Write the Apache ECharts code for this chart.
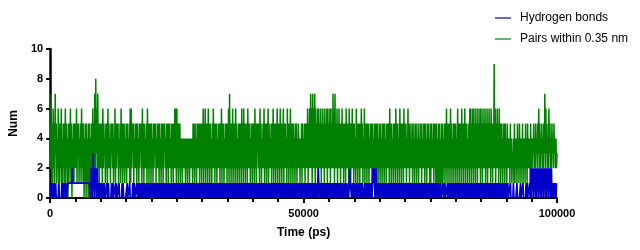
<!DOCTYPE html>
<html>
<head>
<meta charset="utf-8">
<script src="https://cdn.jsdelivr.net/npm/echarts@6/dist/echarts.min.js"></script>
<style>html,body{margin:0;padding:0;background:#fff}#c{width:640px;height:250px}</style>
</head>
<body>
<div id="c"></div>
<script>
// Time axis: samples evenly spaced from 0 to 100000 ps
const timeStart = 0;
const timeEnd = 100000;
const xTicks = [0, 50000, 100000];
const yTicks = [0, 2, 4, 6, 8, 10];
const seriesNames = ["Hydrogen bonds", "Pairs within 0.35 nm"];

// Hydrogen bonds (rows of ~5000 ps)
const hbonds = [
1,0,1,0,1,0,1,1,0,1,0,1,0,0,0,0,0,1,0,0,0,0,0,1,0,1,0,1,0,0,1,0,1,0,0,1,1,1,1,1,1,1,1,1,2,1,1,1,1,1,
1,1,1,1,1,1,1,1,1,1,1,1,1,1,1,1,1,1,1,1,1,1,1,1,1,1,1,1,1,1,0,2,1,2,0,3,1,2,0,2,1,2,0,2,1,0,1,0,1,0,
0,1,0,0,0,1,0,1,0,0,0,0,1,0,0,1,0,0,0,0,0,1,0,0,1,0,0,0,0,1,0,1,0,0,0,0,1,0,0,0,0,0,1,0,1,0,0,0,0,0,
0,0,1,0,0,0,0,1,0,0,0,0,0,1,0,0,1,0,0,0,0,1,0,1,0,1,0,0,1,0,1,0,1,1,0,1,0,1,1,0,0,1,0,0,1,0,1,0,1,0,
1,0,1,0,1,0,0,1,0,1,0,1,0,1,0,1,1,0,1,0,1,0,1,0,1,0,1,0,1,0,1,0,1,0,1,0,1,0,1,0,1,0,1,0,1,0,1,0,1,0,
1,0,1,0,1,0,1,0,1,1,0,1,0,1,0,1,0,1,0,1,0,1,0,1,0,1,0,1,0,1,0,1,0,1,0,0,1,0,1,0,1,0,1,0,1,0,1,0,1,0,
1,0,1,0,1,0,1,0,1,0,1,0,1,0,1,0,1,1,0,1,0,1,0,1,0,1,0,1,0,1,0,1,0,1,0,1,0,1,0,1,1,0,1,0,1,0,1,0,1,0,
1,0,1,0,1,0,1,0,1,0,1,0,1,0,1,0,1,0,1,0,1,0,0,1,0,1,0,1,0,1,0,1,0,1,0,1,0,1,0,1,0,1,0,1,0,1,0,1,0,1,
0,1,0,1,0,1,0,1,0,1,1,0,1,0,1,0,1,0,1,0,1,0,1,0,1,0,1,0,1,0,1,0,1,0,1,0,1,0,1,0,1,0,0,1,0,1,0,1,0,1,
0,1,0,1,0,1,0,1,0,1,0,1,0,1,0,1,0,1,0,1,0,1,0,1,0,1,1,0,1,0,1,0,1,0,1,0,1,0,1,0,1,0,1,0,1,0,1,0,1,0,
1,0,1,0,1,0,1,0,1,0,1,0,1,0,1,0,1,0,1,0,1,0,1,0,1,0,1,0,1,2,1,0,1,0,1,0,1,0,1,0,1,0,1,0,1,0,1,0,1,0,
1,0,1,0,1,0,1,0,1,0,1,0,1,0,1,0,1,0,1,0,1,0,1,0,1,0,1,1,1,0,1,0,1,0,1,1,1,0,1,0,1,2,1,1,1,0,1,0,1,0,
0,1,0,0,0,1,0,1,1,1,0,1,0,0,1,0,1,1,1,0,0,1,0,1,1,0,1,0,1,0,1,0,1,0,1,0,1,2,1,2,1,0,1,2,1,0,1,0,1,0,
1,0,1,0,1,0,1,0,1,0,1,1,0,1,0,1,0,1,0,1,0,1,1,0,1,0,1,0,1,0,1,0,1,0,1,0,0,1,0,1,0,1,0,1,0,1,0,1,0,1,
0,1,0,1,0,1,0,0,1,0,1,0,1,0,1,0,1,1,0,1,0,1,0,1,0,0,1,0,1,0,1,0,1,0,1,1,0,1,0,1,0,1,0,1,0,0,1,0,1,0,
1,0,1,0,1,0,1,0,1,0,1,0,1,0,1,0,1,0,0,0,1,0,0,0,0,1,0,0,0,1,0,0,0,0,1,0,1,0,1,0,1,0,1,0,1,0,1,0,1,0,
1,0,1,0,1,0,1,0,1,0,1,0,1,0,1,0,1,0,1,0,1,0,1,0,1,0,0,1,0,1,0,0,1,0,1,1,1,0,1,0,1,1,0,1,0,1,0,0,1,0,
1,0,1,1,0,1,0,1,0,0,1,0,1,0,1,1,0,1,0,0,1,0,1,0,1,0,0,1,0,1,0,0,1,0,1,0,0,1,0,1,0,0,0,1,0,1,0,0,1,0,
0,1,0,1,0,0,0,0,1,0,0,0,0,0,1,0,0,0,0,0,0,1,0,0,0,0,0,0,1,0,0,0,0,1,0,0,0,0,0,1,0,1,0,0,0,0,1,0,1,2,
0,2,1,2,0,2,1,2,0,2,0,2,1,2,0,2,1,2,0,2,0,2,1,2,0,2,1,2,0,2,0,2,1,2,0,2,1,2,0,2,0,1,0,1,0,1,0,1,0,1,
1
];

// Pairs within 0.35 nm (rows of ~5000 ps)
const pairs = [
5,2,7,1,5,0,6,2,5,1,7,3,5,1,4,2,6,0,5,1,5,2,6,1,4,0,5,2,5,1,6,1,5,2,4,0,5,1,5,2,6,1,5,0,4,2,5,1,5,2,
5,2,6,1,5,3,5,1,4,2,5,1,6,2,5,1,5,0,4,1,5,0,5,1,4,0,5,0,5,1,4,0,5,1,6,2,5,1,7,2,8,3,6,1,7,2,5,1,5,2,
5,2,5,1,6,2,5,3,4,1,5,2,5,1,6,2,5,2,4,1,5,3,5,2,5,1,4,2,6,1,5,2,5,3,5,1,4,2,5,1,6,2,5,1,5,2,5,1,4,2,
5,1,5,2,4,2,5,1,6,1,6,2,5,3,5,1,4,2,5,2,5,1,5,2,4,1,5,2,5,3,5,1,6,2,5,1,5,2,4,2,5,1,6,2,5,1,5,2,5,1,
5,2,4,1,5,2,5,3,5,1,4,2,5,2,5,1,5,2,4,1,5,2,5,1,5,3,5,2,4,1,5,2,5,1,5,2,5,2,4,1,5,2,5,1,5,2,6,2,6,1,
6,2,5,1,5,2,5,1,4,2,4,1,4,2,4,2,4,1,4,2,4,1,4,2,4,1,4,2,4,2,4,1,5,2,5,1,5,2,4,1,5,2,5,2,5,1,5,2,5,1,
5,2,6,1,5,2,6,1,5,2,5,1,6,2,5,1,5,2,4,1,5,2,6,2,5,1,5,2,5,1,4,2,5,2,5,1,5,2,6,1,5,2,5,1,4,2,5,2,5,1,
5,2,6,1,7,2,5,1,5,2,6,1,5,2,5,1,6,2,5,1,4,2,5,1,5,2,5,1,6,2,5,1,6,2,5,1,5,2,5,1,6,2,5,2,5,1,4,2,5,1,
5,2,5,1,6,2,5,1,5,3,5,2,5,1,6,2,5,1,4,2,5,2,6,1,5,2,5,1,5,2,6,1,5,2,4,2,5,1,5,2,6,1,5,2,5,1,5,2,6,1,
5,2,5,1,6,2,5,1,5,2,6,1,5,2,5,2,4,1,6,2,5,1,5,2,6,1,5,2,5,1,5,2,4,1,5,2,5,1,4,2,5,2,4,1,4,2,5,1,5,2,
4,2,5,1,5,2,5,2,6,1,5,2,6,2,7,2,6,1,7,2,6,2,7,1,6,2,5,2,6,1,6,2,5,2,6,1,5,2,6,2,5,1,6,2,5,2,6,1,6,2,
5,2,6,1,6,2,5,2,7,2,6,1,7,2,5,2,6,1,5,2,6,2,5,1,5,2,6,2,5,1,5,2,5,1,6,2,5,2,5,1,6,2,5,1,5,2,6,2,5,1,
5,2,4,1,6,2,5,1,5,2,5,1,5,2,6,2,5,1,4,2,6,1,5,2,5,1,5,2,5,1,4,2,5,2,5,1,5,2,4,1,5,2,5,1,5,2,5,1,4,2,
5,1,5,2,4,1,5,2,5,1,5,2,4,1,5,2,5,2,5,1,6,2,5,1,5,2,4,1,5,2,5,1,6,2,5,1,5,2,4,1,6,2,5,1,5,2,5,1,6,2,
5,2,5,1,4,2,6,2,5,1,5,2,4,2,5,1,5,2,4,1,5,2,5,1,4,2,5,1,4,2,5,2,5,1,4,2,5,2,5,1,5,2,4,1,5,2,5,2,4,1,
5,1,5,2,4,2,5,1,5,2,5,1,5,0,4,1,5,0,5,1,4,0,5,1,5,1,4,2,5,1,5,2,6,1,5,2,5,1,5,2,6,1,5,2,4,1,5,2,5,1,
5,2,4,1,6,2,5,1,5,2,5,1,6,2,5,1,5,2,6,1,5,2,5,1,4,2,5,1,6,2,6,1,5,2,6,1,6,2,5,1,6,2,5,1,6,2,5,2,6,1,
6,2,5,1,6,2,5,2,6,1,5,2,6,1,5,2,6,2,5,1,6,2,5,1,5,2,9,2,6,1,5,2,6,2,5,1,6,2,5,1,5,2,4,1,5,2,5,1,5,2,
4,1,5,2,4,2,4,1,5,2,4,1,3,2,4,1,5,1,4,2,4,1,5,2,4,1,5,2,4,1,4,2,5,1,4,2,4,1,5,2,4,1,5,2,4,2,4,1,5,2,
4,2,4,3,5,2,4,2,5,3,4,2,5,3,6,2,5,2,4,3,5,2,4,2,5,3,7,2,6,3,5,2,4,2,6,3,5,2,4,2,5,3,4,2,5,3,4,2,4,2,
3
];

function toPairs(vals) {
  const n = vals.length;
  return vals.map((v, i) => [timeStart + (timeEnd - timeStart) * i / (n - 1), v]);
}

const chart = echarts.init(document.getElementById('c'), null, {renderer: 'canvas'});
const FONT = 'Liberation Sans, Arial, sans-serif';
chart.setOption({
  animation: false,
  backgroundColor: '#ffffff',
  grid: {left: 50, right: 83, top: 49, bottom: 52, containLabel: false},
  legend: {
    orient: 'vertical',
    left: 490,
    top: 7,
    itemWidth: 16,
    itemHeight: 1.2,
    itemGap: 9,
    icon: 'rect',
    data: seriesNames,
    textStyle: {fontFamily: FONT, fontSize: 12, color: '#000', padding: [0, 0, 0, 4]}
  },
  xAxis: {
    type: 'value',
    min: xTicks[0],
    max: xTicks[xTicks.length - 1],
    interval: xTicks[1] - xTicks[0],
    name: 'Time (ps)',
    nameLocation: 'middle',
    nameGap: 29,
    nameTextStyle: {fontFamily: FONT, fontSize: 12, fontWeight: 'bold', color: '#000'},
    axisLine: {lineStyle: {color: '#000', width: 2}},
    axisTick: {show: true, inside: false, length: 5, lineStyle: {color: '#000', width: 2}},
    minorTick: {show: true, splitNumber: 10, length: 4, lineStyle: {color: '#000', width: 2}},
    axisLabel: {fontFamily: FONT, fontSize: 11, fontWeight: 'bold', color: '#000', margin: 10,
      formatter: v => String(v)},
    splitLine: {show: false}
  },
  yAxis: {
    type: 'value',
    min: yTicks[0],
    max: yTicks[yTicks.length - 1],
    interval: yTicks[1] - yTicks[0],
    name: 'Num',
    nameLocation: 'middle',
    nameGap: 22,
    nameTextStyle: {fontFamily: FONT, fontSize: 12, fontWeight: 'bold', color: '#000'},
    axisLine: {show: true, lineStyle: {color: '#000', width: 2.5}},
    axisTick: {show: true, inside: false, length: 4, lineStyle: {color: '#000', width: 2}},
    axisLabel: {fontFamily: FONT, fontSize: 11, fontWeight: 'bold', color: '#000', margin: 7},
    splitLine: {show: false}
  },
  series: [
    {
      name: seriesNames[1],
      type: 'line',
      data: toPairs(pairs),
      showSymbol: false,
      symbol: 'none',
      sampling: null,
      z: 2,
      itemStyle: {color: '#008000'},
      lineStyle: {color: '#008000', width: 1.5}
    },
    {
      name: seriesNames[0],
      type: 'line',
      data: toPairs(hbonds),
      showSymbol: false,
      symbol: 'none',
      sampling: null,
      z: 3,
      itemStyle: {color: '#0000c8'},
      lineStyle: {color: '#0000c8', width: 1.7}
    }
  ]
});
</script>
</body>
</html>
